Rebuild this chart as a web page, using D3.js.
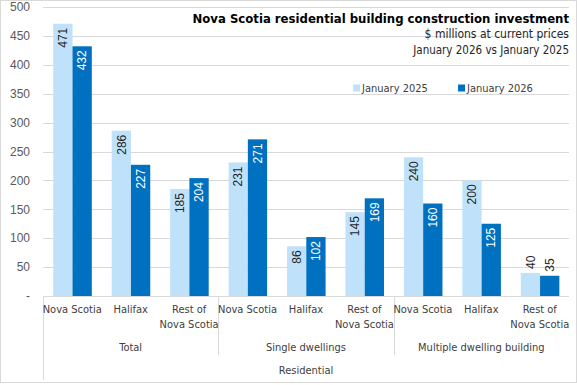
<!DOCTYPE html>
<html>
<head>
<meta charset="utf-8">
<script src="https://cdn.jsdelivr.net/npm/d3@7"></script>
<style>
  body { margin: 0; background: #fff; }
  text { font-family: "DejaVu Sans Condensed", Roboto, sans-serif; }
  .num { font-family: "Liberation Sans", Arial, sans-serif; }
</style>
</head>
<body>
<div id="chart"></div>
<script>
var W = 577, H = 385;
var margin = { top: 7, left: 43, right: 8, bottom: 89 };

// data
var groups = ["Total", "Single dwellings", "Multiple dwelling building"];
var places = ["Nova Scotia", "Halifax", "Rest of|Nova Scotia"];
var seriesNames = ["January 2025", "January 2026"];
var jan2025 = [471, 286, 185, 231, 86, 145, 240, 200, 40];
var jan2026 = [432, 227, 204, 271, 102, 169, 160, 125, 35];
var yTicks = [0, 50, 100, 150, 200, 250, 300, 350, 400, 450, 500];
var colors = ["#bfe2fa", "#0070c0"];

var cats = [];
groups.forEach(function (g, gi) {
  places.forEach(function (p, pi) {
    var i = gi * places.length + pi;
    cats.push({ id: i, group: g, place: p, values: [jan2025[i], jan2026[i]] });
  });
});

var svg = d3.select("#chart").append("svg")
  .attr("width", W).attr("height", H);

svg.append("rect")
  .attr("x", 0.5).attr("y", 0.5)
  .attr("width", W - 1).attr("height", H - 3)
  .attr("fill", "#fff").attr("stroke", "#d9d9d9");

var plotW = W - margin.left - margin.right,
    baseY = 296;

var y = d3.scaleLinear().domain([0, 500]).range([baseY, margin.top]);
var x0 = d3.scaleBand().domain(cats.map(function (d) { return d.id; }))
  .range([margin.left, margin.left + plotW]);
var bw = x0.bandwidth();
var x1 = d3.scaleBand().domain([0, 1]).range([bw * 0.175, bw * 0.835]);

// gridlines + y labels
svg.append("g").selectAll("line")
  .data(yTicks.filter(function (t) { return t > 0; }))
  .enter().append("line")
  .attr("x1", margin.left).attr("x2", margin.left + plotW)
  .attr("y1", function (d) { return Math.round(y(d)) + 0.5; })
  .attr("y2", function (d) { return Math.round(y(d)) + 0.5; })
  .attr("stroke", "#d9d9d9");

svg.append("g").selectAll("text")
  .data(yTicks)
  .enter().append("text")
  .attr("class", "num")
  .attr("x", 30).attr("y", function (d) { return y(d); })
  .attr("dy", "0.35em")
  .attr("text-anchor", "end")
  .attr("font-size", 12).attr("fill", "#595959")
  .text(function (d) { return d === 0 ? "-" : d; });

// bars
var cat = svg.append("g").selectAll("g")
  .data(cats).enter().append("g")
  .attr("transform", function (d) { return "translate(" + x0(d.id) + ",0)"; });

cat.selectAll("rect")
  .data(function (d) { return d.values; })
  .enter().append("rect")
  .attr("x", function (d, i) { return x1(i); })
  .attr("width", x1.bandwidth())
  .attr("y", function (d) { return y(d); })
  .attr("height", function (d) { return baseY - y(d); })
  .attr("fill", function (d, i) { return colors[i]; });

// rotated value labels
cat.selectAll("text")
  .data(function (d) { return d.values; })
  .enter().append("text")
  .attr("class", "num")
  .attr("transform", function (d, i) {
    var cx = x1(i) + x1.bandwidth() / 2;
    var inside = baseY - y(d) > 30;
    var ty = inside ? y(d) + 4 : y(d) - 4;
    return "translate(" + cx + "," + ty + ") rotate(-90)";
  })
  .attr("text-anchor", function (d) { return baseY - y(d) > 30 ? "end" : "start"; })
  .attr("dy", "0.35em")
  .attr("font-size", 12)
  .attr("fill", function (d, i) { return (i === 1 && baseY - y(d) > 30) ? "#fff" : "#262626"; })
  .text(function (d) { return d; });

// multi-level x axis
var axis = svg.append("g").attr("stroke", "#d9d9d9");
axis.append("line")
  .attr("x1", margin.left).attr("x2", margin.left + plotW)
  .attr("y1", baseY + 0.5).attr("y2", baseY + 0.5);
axis.append("line")
  .attr("x1", margin.left + 0.5).attr("x2", margin.left + 0.5)
  .attr("y1", baseY).attr("y2", 380);
[1, 2].forEach(function (g) {
  var gx = Math.round(x0(g * places.length)) + 0.5;
  axis.append("line").attr("x1", gx).attr("x2", gx)
    .attr("y1", baseY).attr("y2", 355);
});

var catLab = svg.append("g").selectAll("text")
  .data(cats).enter().append("text")
  .attr("x", function (d) { return x0(d.id) + bw / 2; })
  .attr("y", 313)
  .attr("text-anchor", "middle")
  .attr("font-size", 11).attr("fill", "#404040");
catLab.selectAll("tspan")
  .data(function (d) { return d.place.split("|"); })
  .enter().append("tspan")
  .attr("x", function () { var p = this.parentNode.__data__; return x0(p.id) + bw / 2; })
  .attr("dy", function (d, i) { return i === 0 ? 0 : 15; })
  .text(function (d) { return d; });

svg.append("g").selectAll("text")
  .data(groups).enter().append("text")
  .attr("x", function (d, i) { return x0(i * 3) + bw * 1.5; })
  .attr("y", 351)
  .attr("text-anchor", "middle")
  .attr("font-size", 11).attr("fill", "#404040")
  .text(function (d) { return d; });

svg.append("text")
  .attr("x", margin.left + plotW / 2).attr("y", 374)
  .attr("text-anchor", "middle")
  .attr("font-size", 11).attr("fill", "#404040")
  .text("Residential");

// title block
svg.append("text")
  .attr("x", 569).attr("y", 23)
  .attr("text-anchor", "end")
  .attr("font-size", 13).attr("font-weight", "bold").attr("fill", "#000")
  .text("Nova Scotia residential building construction investment");
svg.append("text")
  .attr("x", 569).attr("y", 38)
  .attr("text-anchor", "end")
  .attr("font-size", 12).attr("fill", "#262626")
  .text("$ millions at current prices");
svg.append("text")
  .attr("x", 569).attr("y", 54)
  .attr("text-anchor", "end")
  .attr("font-size", 11.5).attr("fill", "#262626")
  .text("January 2026 vs January 2025");

// legend
var legX = [353, 458];
var leg = svg.append("g").selectAll("g")
  .data(seriesNames).enter().append("g")
  .attr("transform", function (d, i) { return "translate(" + legX[i] + ",88)"; });
leg.append("rect")
  .attr("x", 0).attr("y", -3.5).attr("width", 7).attr("height", 7)
  .attr("fill", function (d, i) { return colors[i]; });
leg.append("text")
  .attr("x", 9).attr("dy", "0.35em")
  .attr("font-size", 11).attr("fill", "#404040")
  .text(function (d) { return d; });
</script>
</body>
</html>
